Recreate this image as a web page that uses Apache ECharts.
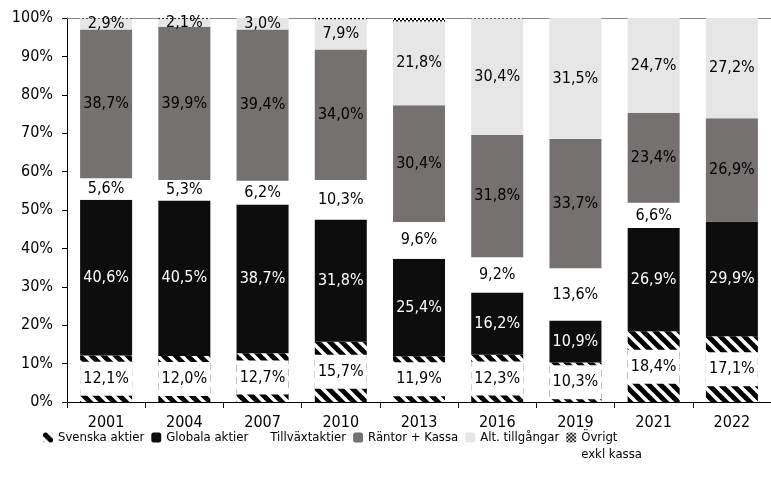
<!DOCTYPE html>
<html>
<head>
<meta charset="utf-8">
<script src="https://cdn.jsdelivr.net/npm/echarts@6/dist/echarts.min.js"></script>
<style>
html,body{margin:0;padding:0;background:#fff}
#chart{width:771px;height:481px}
</style>
</head>
<body>
<div id="chart"></div>
<script>
let years = ['2001', '2004', '2007', '2010', '2013', '2016', '2019', '2021', '2022'];
let svenska = [12.1, 12.0, 12.7, 15.7, 11.9, 12.3, 10.3, 18.4, 17.1];
let globala = [40.6, 40.5, 38.7, 31.8, 25.4, 16.2, 10.9, 26.9, 29.9];
let tillvaxt = [5.6, 5.3, 6.2, 10.3, 9.6, 9.2, 13.6, 6.6, 0];
let rantor = [38.7, 39.9, 39.4, 34.0, 30.4, 31.8, 33.7, 23.4, 26.9];
let alt = [2.9, 2.1, 3.0, 7.9, 21.8, 30.4, 31.5, 24.7, 27.2];
let ovrigt = [0.1, 0.2, 0.1, 0.3, 0.9, 0.1, 0.1, 0.1, 0];

let font = '"DejaVu Sans Condensed", "Liberation Sans Narrow", sans-serif';

function stripes() {
  let c = document.createElement('canvas');
  c.width = 12; c.height = 12;
  let g = c.getContext('2d');
  g.fillStyle = '#fff';
  g.fillRect(0, 0, 12, 12);
  g.strokeStyle = '#000';
  g.lineWidth = 5;
  for (let x = -12; x <= 12; x += 12) {
    g.beginPath();
    g.moveTo(x - 3, -3);
    g.lineTo(x + 15, 15);
    g.stroke();
  }
  return c;
}
function checker() {
  let c = document.createElement('canvas');
  c.width = 4; c.height = 4;
  let g = c.getContext('2d');
  g.fillStyle = '#fff';
  g.fillRect(0, 0, 4, 4);
  g.fillStyle = '#000';
  g.fillRect(0, 0, 2, 2);
  g.fillRect(2, 2, 2, 2);
  return c;
}

function fmt(p) {
  return p.value > 0 ? p.value.toFixed(1).replace('.', ',') + '%' : '';
}

function lbl(color, extra) {
  return Object.assign({
    show: true,
    position: 'inside',
    color: color,
    fontSize: 16,
    fontFamily: font,
    formatter: fmt
  }, extra || {});
}

let chart = echarts.init(document.getElementById('chart'));
chart.setOption({
  animation: false,
  textStyle: { fontFamily: font },
  grid: { left: 67, right: 0, top: 18, bottom: 79 },
  legend: {
    left: 38,
    top: 407,
    itemWidth: 10,
    itemHeight: 10,
    itemGap: 7,
    textStyle: { fontSize: 13, color: '#000', fontFamily: font, lineHeight: 17 },
    formatter: function (name) {
      // push the two-line entry down so its first line sits level with the icon
      return name.indexOf('\n') >= 0 ? ' \n' + name : name;
    },
    data: ['Svenska aktier', 'Globala aktier', 'Tillväxtaktier', 'Räntor + Kassa', 'Alt. tillgångar', 'Övrigt\nexkl kassa']
  },
  xAxis: [{
    type: 'category',
    data: years,
    axisLine: { lineStyle: { color: '#000', width: 1 } },
    axisTick: { show: true, length: 6, lineStyle: { color: '#000' } },
    axisLabel: { fontSize: 16, color: '#000', fontFamily: font, margin: 13 }
  }, {
    type: 'category',
    data: years,
    position: 'top',
    axisLine: { lineStyle: { color: '#888' } },
    axisTick: { show: false },
    axisLabel: { show: false }
  }],
  yAxis: {
    type: 'value',
    min: 0,
    max: 100,
    interval: 10,
    axisLine: { show: true, lineStyle: { color: '#000' } },
    axisTick: { show: true, length: 5, lineStyle: { color: '#000' } },
    splitLine: { show: false },
    axisLabel: { fontSize: 16, color: '#000', fontFamily: font, formatter: '{value}%', margin: 14 }
  },
  series: [
    { name: 'Svenska aktier', type: 'bar', stack: 'a', barWidth: 52, data: svenska,
      itemStyle: { color: { image: stripes(), repeat: 'repeat' } },
      label: lbl('#000', { backgroundColor: '#fff', width: 52, align: 'center', padding: [9, 0, 9, 0] }) },
    { name: 'Globala aktier', type: 'bar', stack: 'a', data: globala,
      itemStyle: { color: '#0d0d0d' }, label: lbl('#fff') },
    { name: 'Tillväxtaktier', type: 'bar', stack: 'a', data: tillvaxt,
      itemStyle: { color: '#ffffff' }, label: lbl('#000') },
    { name: 'Räntor + Kassa', type: 'bar', stack: 'a', data: rantor,
      itemStyle: { color: '#767171' }, label: lbl('#000') },
    { name: 'Alt. tillgångar', type: 'bar', stack: 'a', data: alt,
      itemStyle: { color: '#e6e6e6' }, label: lbl('#000') },
    { name: 'Övrigt\nexkl kassa', type: 'bar', stack: 'a', data: ovrigt,
      itemStyle: { color: { image: checker(), repeat: 'repeat' } } }
  ]
});
</script>
</body>
</html>
